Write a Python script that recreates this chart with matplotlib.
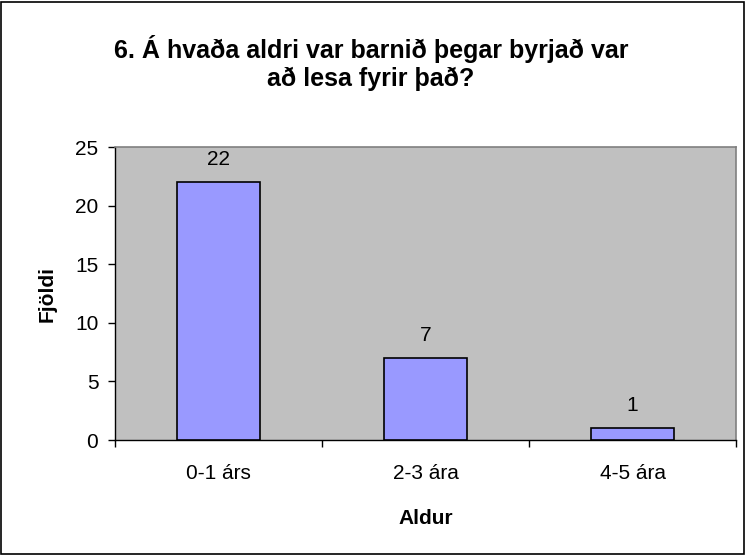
import matplotlib
matplotlib.use("Agg")
import matplotlib.pyplot as plt
from matplotlib.patches import Rectangle

categories = ["0-1 árs", "2-3 ára", "4-5 ára"]
values = [22, 7, 1]
yticks = [0, 5, 10, 15, 20, 25]

plt.rcParams['font.family'] = ['Liberation Sans', 'DejaVu Sans']

fig = plt.figure(figsize=(7.46, 5.55), dpi=100)
fig.patch.set_facecolor('white')
fig.patches.append(Rectangle((0.002, 0.002), 0.995, 0.994, transform=fig.transFigure,
                             fill=False, edgecolor='black', linewidth=1.2))

ax = fig.add_axes([0.1542, 0.2072, 0.8324, 0.5279])
ax.set_facecolor('#C0C0C0')
x = list(range(len(categories)))
bars = ax.bar(x, values, width=0.4, color='#9999FF', edgecolor='black', linewidth=1.2, zorder=3)
for xi, v in zip(x, values):
    ax.text(xi, v + 1.1, str(v), ha='center', va='bottom', fontsize=15)

ax.set_xlim(-0.5, len(categories) - 0.5)
ax.set_ylim(0, 25)
ax.set_yticks(yticks)
ax.set_xticks(x)
ax.set_xticklabels(categories, fontsize=15)
ax.set_xticks([i - 0.5 for i in range(len(categories) + 1)], minor=True)
ax.tick_params(axis='x', which='major', length=0, pad=17)
ax.tick_params(axis='x', which='minor', length=5, width=1, direction='out')
ax.tick_params(axis='y', labelsize=15, length=5, width=1, direction='out', pad=7)

for s in ['top', 'right']:
    ax.spines[s].set_color('#808080')
    ax.spines[s].set_linewidth(1.2)
for s in ['left', 'bottom']:
    ax.spines[s].set_color('black')
    ax.spines[s].set_linewidth(1.0)

ax.set_xlabel('Aldur', fontsize=15, fontweight='bold', labelpad=19)
ax.set_ylabel('Fjöldi', fontsize=15, fontweight='bold', labelpad=13)

fig.text(0.497, 0.886, "6. Á hvaða aldri var barnið þegar byrjað var\nað lesa fyrir það?",
         ha='center', va='center', fontsize=18, fontweight='bold', linespacing=1.2)

fig.savefig('out.png', dpi=100)
